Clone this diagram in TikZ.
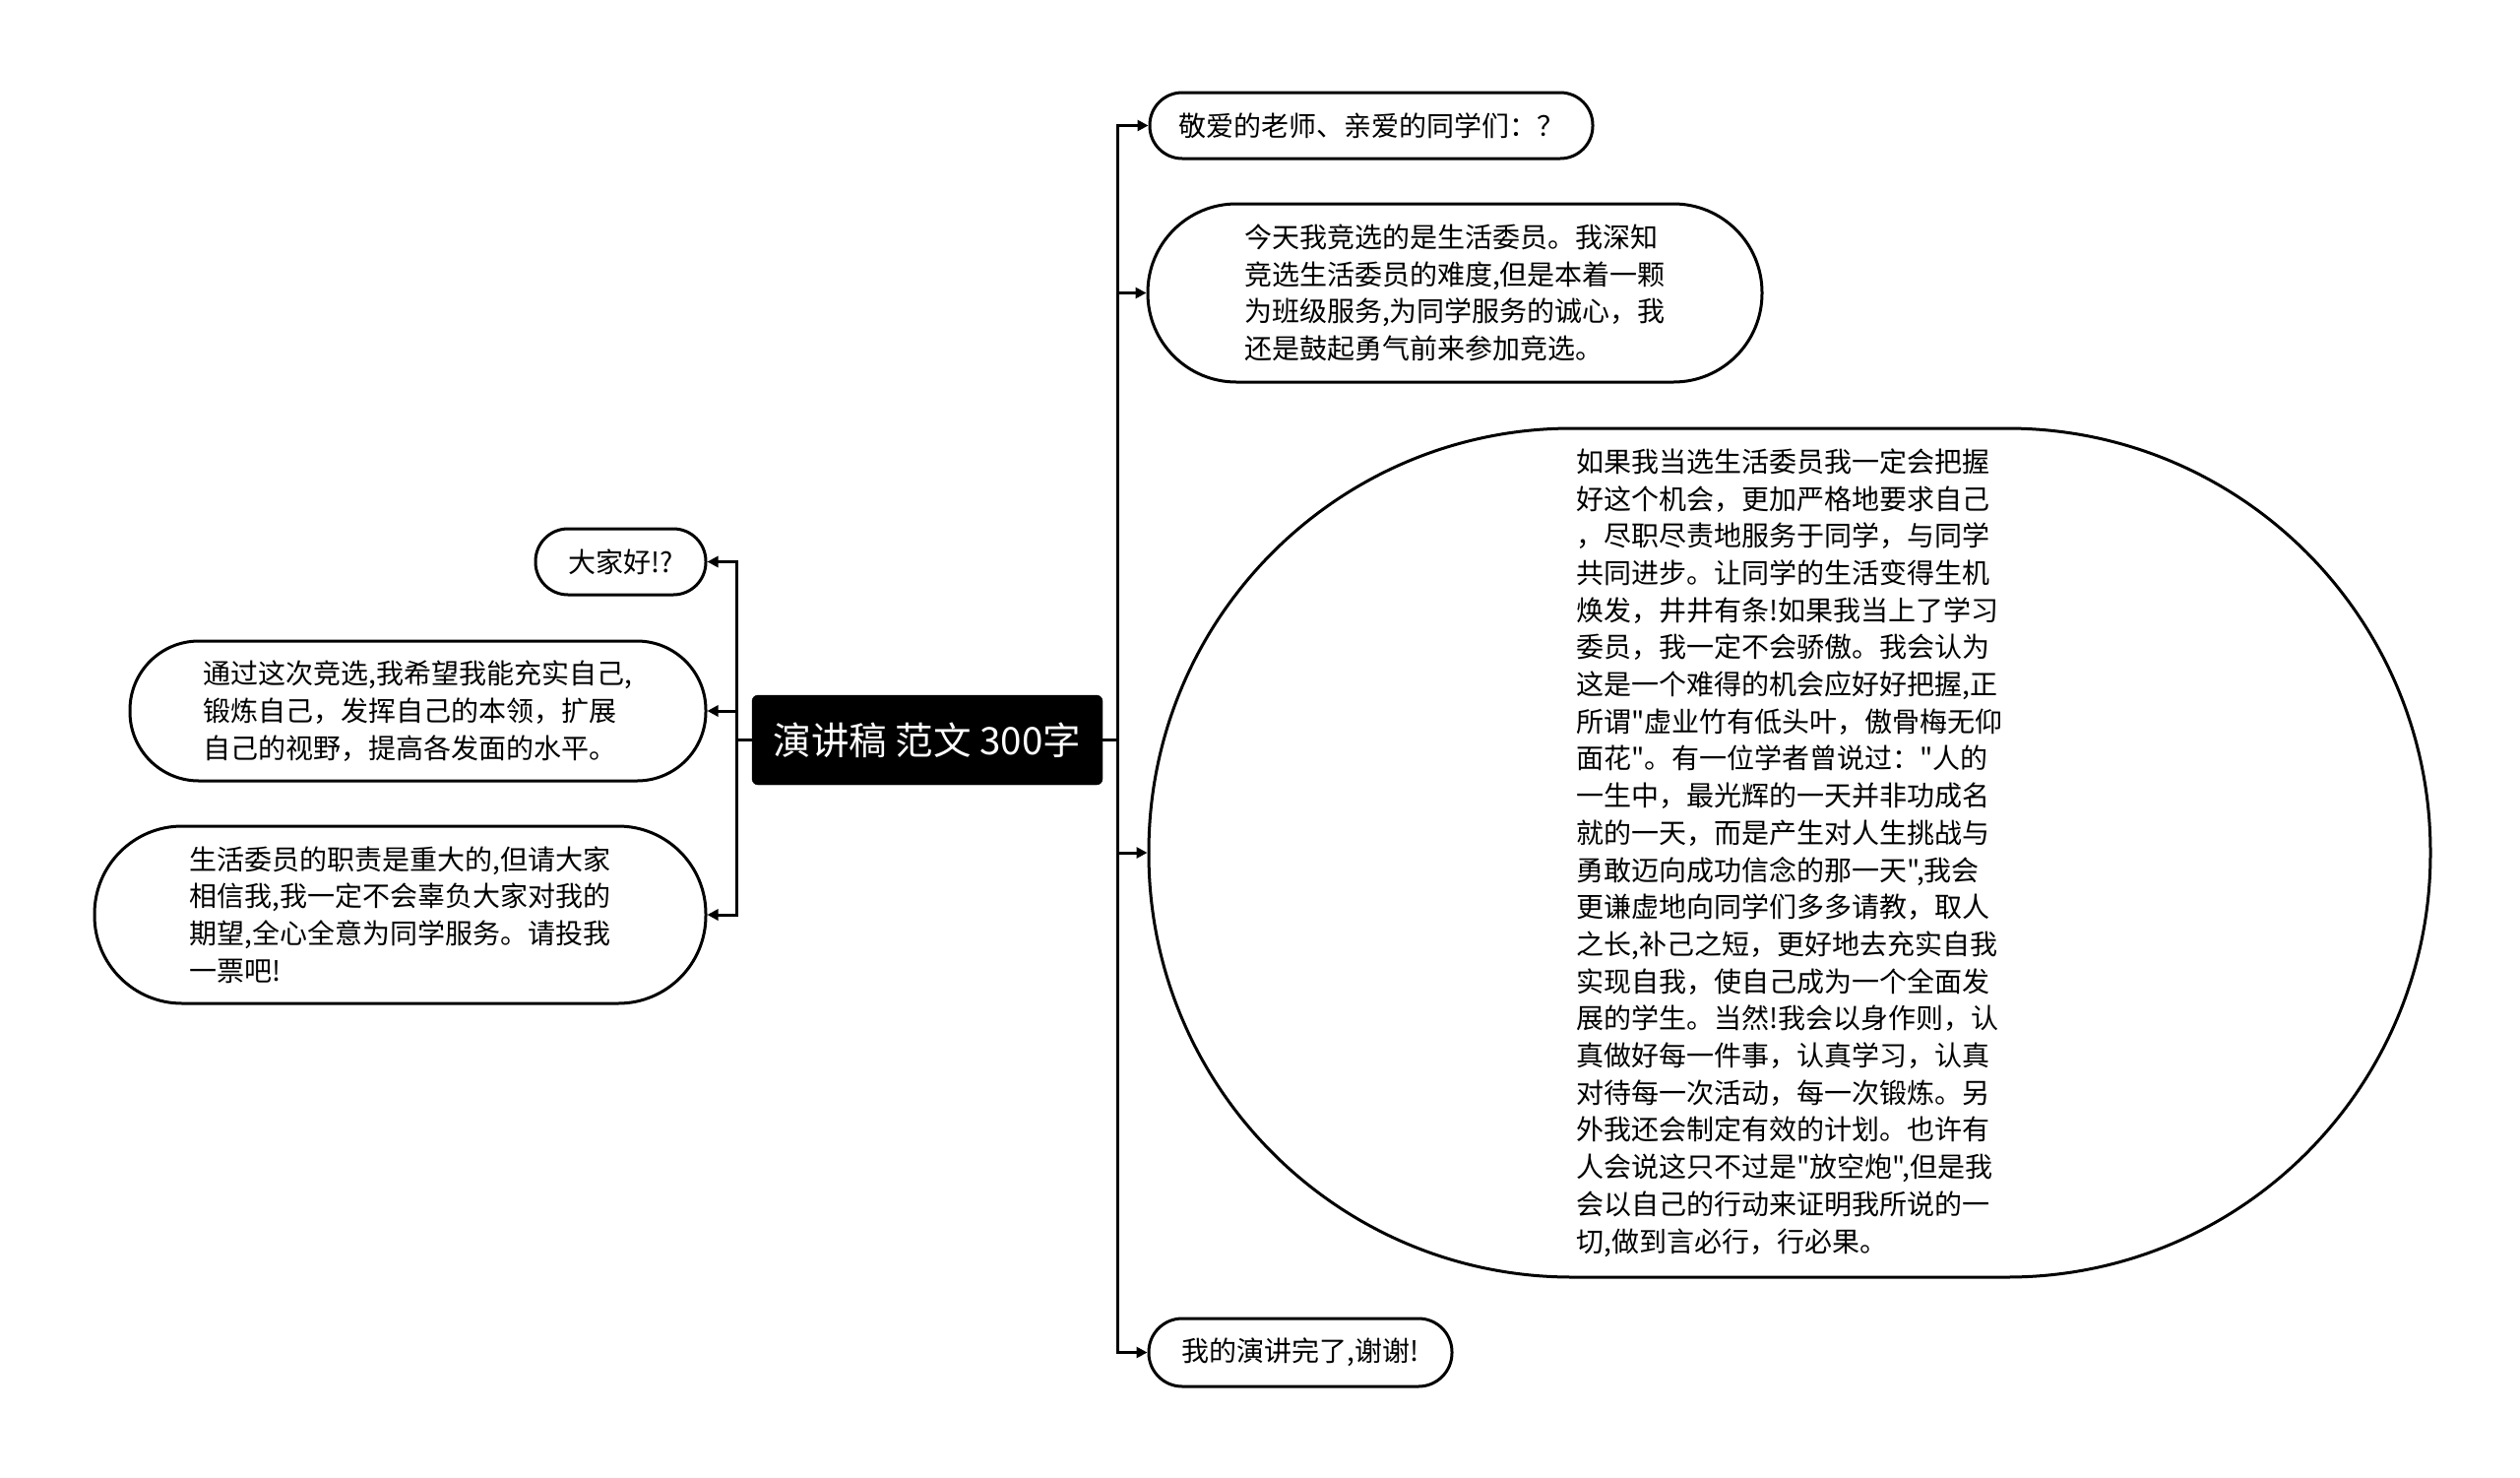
\documentclass[tikz,border=0pt]{standalone}
\usepackage{fontspec}
\setmainfont{Noto Sans CJK SC}
\newfontfamily\cjk{Noto Sans CJK SC}
\usetikzlibrary{arrows.meta}
\begin{document}
\begin{tikzpicture}[x=1pt,y=-1pt,
  topic/.style={draw=black, line width=3pt, fill=white, inner sep=0pt, align=left,
    font=\cjk\fontsize{28}{37.7}\selectfont},
  root/.style={fill=black, draw=black, rounded corners=6pt, inner sep=0pt, text=white,
    font=\cjk\fontsize{38.5}{44}\selectfont},
  conn/.style={line width=3pt, -{Triangle[length=11pt,width=11pt]}},
  conn0/.style={line width=3pt}]
\useasboundingbox (0,0) rectangle (2560,1500);
\fill[white] (0,0) rectangle (2560,1500);

% root
\node[root, minimum width=356pt, minimum height=91pt] (c) at (942,751.5) {演讲稿 范文 300字};

% right side
\node[topic, minimum width=450pt, minimum height=67pt, rounded corners=33pt] (r1) at (1393,127.5)
  {敬爱的老师、亲爱的同学们：？};
\node[topic, minimum width=624pt, minimum height=181pt, rounded corners=90pt] (r2) at (1478,297.5)
  {今天我竞选的是生活委员。我深知\\竞选生活委员的难度,但是本着一颗\\为班级服务,为同学服务的诚心，我\\还是鼓起勇气前来参加竞选。};
\node[topic, minimum width=1302pt, minimum height=862pt, rounded corners=430pt] (r3) at (1818,866)
  {如果我当选生活委员我一定会把握\\好这个机会，更加严格地要求自己\\，尽职尽责地服务于同学，与同学\\共同进步。让同学的生活变得生机\\焕发，井井有条!如果我当上了学习\\委员，我一定不会骄傲。我会认为\\这是一个难得的机会应好好把握,正\\所谓"虚业竹有低头叶，傲骨梅无仰\\面花"。有一位学者曾说过："人的\\一生中，最光辉的一天并非功成名\\就的一天，而是产生对人生挑战与\\勇敢迈向成功信念的那一天",我会\\更谦虚地向同学们多多请教，取人\\之长,补己之短，更好地去充实自我\\实现自我，使自己成为一个全面发\\展的学生。当然!我会以身作则，认\\真做好每一件事，认真学习，认真\\对待每一次活动，每一次锻炼。另\\外我还会制定有效的计划。也许有\\人会说这只不过是"放空炮",但是我\\会以自己的行动来证明我所说的一\\切,做到言必行，行必果。};
\node[topic, minimum width=308pt, minimum height=69pt, rounded corners=34pt] (r4) at (1321,1373.5)
  {我的演讲完了,谢谢!};

% left side
\node[topic, minimum width=173pt, minimum height=67pt, rounded corners=33pt] (l1) at (630.5,570.5)
  {大家好!?};
\node[topic, minimum width=585pt, minimum height=142pt, rounded corners=70pt] (l2) at (424.5,722)
  {通过这次竞选,我希望我能充实自己,\\锻炼自己，发挥自己的本领，扩展\\自己的视野，提高各发面的水平。};
\node[topic, minimum width=621pt, minimum height=180pt, rounded corners=89pt] (l3) at (406.5,929)
  {生活委员的职责是重大的,但请大家\\相信我,我一定不会辜负大家对我的\\期望,全心全意为同学服务。请投我\\一票吧!};

% spines
\coordinate (rs) at (1135,751.5);
\coordinate (ls) at (748,751.5);
\draw[conn0] (c.east) -- (rs);
\draw[conn0] (c.west) -- (ls);
\draw[conn] (rs) |- (r1.west);
\draw[conn] (rs) |- (r2.west);
\draw[conn] (rs) |- (r3.west);
\draw[conn] (rs) |- (r4.west);
\draw[conn] (ls) |- (l1.east);
\draw[conn] (ls) |- (l2.east);
\draw[conn] (ls) |- (l3.east);
\end{tikzpicture}
\end{document}
